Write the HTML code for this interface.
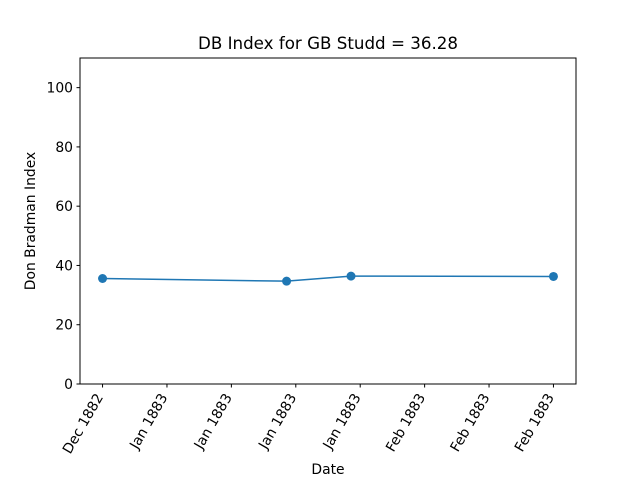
<!DOCTYPE html>
<html><head><meta charset="utf-8"><style>
body{margin:0;background:#fff;}
svg text{font-family:"DejaVu Sans","Liberation Sans",sans-serif;fill:#000;}
</style></head><body>
<svg id="chart" width="640" height="480" viewBox="0 0 640 480">
<rect x="0" y="0" width="640" height="480" fill="#fff"/>
<text x="328" y="49" font-size="16.7" text-anchor="middle">DB Index for GB Studd = 36.28</text>
<g id="ticks"></g>
<g id="series"></g>
<rect x="80" y="58" width="496" height="326" fill="none" stroke="#000" stroke-width="1"/>
<text x="328" y="474" font-size="13.9" text-anchor="middle">Date</text>
<text transform="translate(35,221) rotate(-90)" font-size="13.9" text-anchor="middle">Don Bradman Index</text>
</svg>
<script>
const dayOffsets=[0,20,27,49];
const values=[35.6,34.7,36.4,36.28];
const xTickDays=[0,7,14,21,28,35,42,49];
const xTickLabels=["Dec 1882","Jan 1883","Jan 1883","Jan 1883","Jan 1883","Feb 1883","Feb 1883","Feb 1883"];
const yTicks=[0,20,40,60,80,100];
const NS="http://www.w3.org/2000/svg";
const L=80,R=576,T=58,B=384,xmin=-2.45,xmax=51.45,ymin=0,ymax=110;
const xs=d=>L+(d-xmin)/(xmax-xmin)*(R-L);
const ys=v=>B-(v-ymin)/(ymax-ymin)*(B-T);
const tg=document.getElementById('ticks'),sg=document.getElementById('series');
function mk(tag,at,p){const e=document.createElementNS(NS,tag);for(const k in at)e.setAttribute(k,at[k]);p.appendChild(e);return e;}
yTicks.forEach(v=>{
 const y=ys(v);
 const ln=mk('line',{x1:76.5,x2:80,y1:y,y2:y,stroke:'#000'},tg);
 
 
 const t=mk('text',{x:73,y:y+5,'font-size':13.9,'text-anchor':'end'},tg);
 t.textContent=v;
 
 
});
xTickDays.forEach((d,i)=>{
 const x=xs(d);
 const ln=mk('line',{x1:x,x2:x,y1:384,y2:387.5,stroke:'#000'},tg);
 
 
 const t=mk('text',{transform:`translate(${x+1},${397}) rotate(-60)`,'font-size':13.9,'text-anchor':'end'},tg);
 t.textContent=xTickLabels[i];
 
 
});
const pts=dayOffsets.map((d,i)=>xs(d)+','+ys(values[i])).join(' ');
const pl=mk('polyline',{points:pts,fill:'none',stroke:'#1f77b4','stroke-width':1.5},sg);


dayOffsets.forEach((d,i)=>{
 const c=mk('circle',{cx:xs(d),cy:ys(values[i]),r:4.5,fill:'#1f77b4'},sg);
 
 
});
</script>
</body></html>
